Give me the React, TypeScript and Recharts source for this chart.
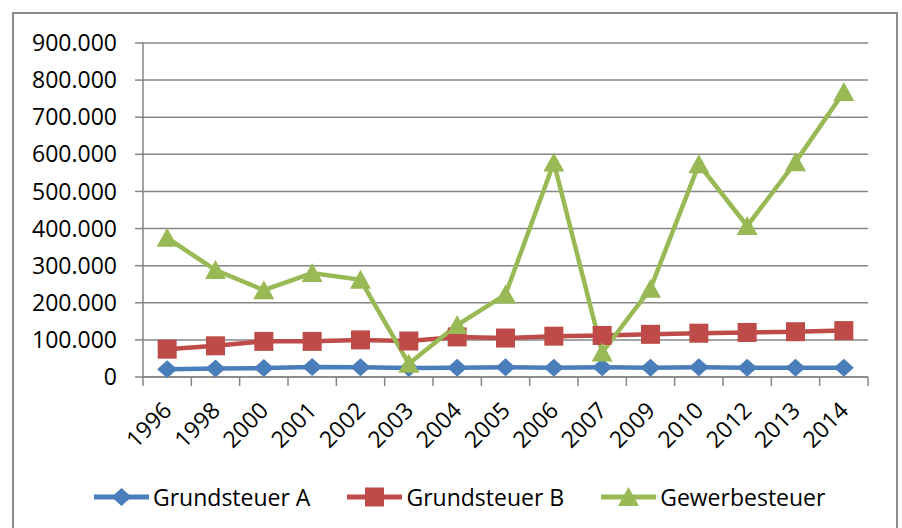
import React from 'react';
import { LineChart, Line, XAxis, YAxis, CartesianGrid, Legend } from 'recharts';

const years = ['1996', '1998', '2000', '2001', '2002', '2003', '2004', '2005', '2006', '2007', '2009', '2010', '2012', '2013', '2014'];
const grundsteuerA = [21000, 23000, 24000, 27000, 26000, 24000, 25000, 26000, 25000, 26000, 25000, 26000, 25000, 25000, 25000];
const grundsteuerB = [75000, 84000, 96000, 96000, 100000, 97000, 108000, 105000, 110000, 112000, 115000, 118000, 120000, 122000, 125000];
const gewerbesteuer = [375000, 288000, 234000, 280000, 262000, 36000, 140000, 222000, 578000, 66000, 238000, 573000, 407000, 579000, 768000];
const yTicks = [0, 100000, 200000, 300000, 400000, 500000, 600000, 700000, 800000, 900000];
const boundaryTicks = years.map((_, i) => i).concat(years.length);

const data = years.map((year, i) => ({
  year,
  idx: i + 0.5,
  grundA: grundsteuerA[i],
  grundB: grundsteuerB[i],
  gewerbe: gewerbesteuer[i],
}));

const FONT = '"Open Sans", sans-serif';
const GRID = '#868686';

type MarkerKind = 'diamond' | 'square' | 'triangle';

const series: { key: string; name: string; color: string; marker: MarkerKind }[] = [
  { key: 'grundA', name: 'Grundsteuer A', color: '#4A7EBB', marker: 'diamond' },
  { key: 'grundB', name: 'Grundsteuer B', color: '#BE4B48', marker: 'square' },
  { key: 'gewerbe', name: 'Gewerbesteuer', color: '#98B954', marker: 'triangle' },
];

const Marker = ({ kind, cx, cy, fill }: { kind: MarkerKind; cx: number; cy: number; fill: string }) => {
  if (kind === 'diamond') {
    return <polygon points={`${cx},${cy - 9} ${cx + 10},${cy} ${cx},${cy + 9} ${cx - 10},${cy}`} fill={fill} />;
  }
  if (kind === 'square') {
    return <rect x={cx - 9.5} y={cy - 9.5} width={19} height={19} fill={fill} />;
  }
  return <polygon points={`${cx},${cy - 10} ${cx + 10.5},${cy + 9} ${cx - 10.5},${cy + 9}`} fill={fill} />;
};

const fmt = (v: number) => (v === 0 ? '0' : `${v / 1000}.000`);

const YearTick = (props: any) => {
  const { x, y, payload } = props;
  const ax = x + 6;
  const ay = y + 26;
  return (
    <text x={ax} y={ay} transform={`rotate(-45 ${ax} ${ay})`} textAnchor="end" fontSize={23} fontFamily={FONT} fill="#000">
      {payload.value}
    </text>
  );
};

const LegendContent = () => (
  <div style={{ display: 'flex', alignItems: 'center', height: 30, fontFamily: FONT, fontSize: 23, color: '#000' }}>
    {series.map((s) => (
      <div key={s.key} style={{ display: 'flex', alignItems: 'center', marginRight: 37 }}>
        <svg width={55} height={26} style={{ marginRight: 4 }}>
          <line x1={0} y1={13} x2={55} y2={13} stroke={s.color} strokeWidth={5} />
          <Marker kind={s.marker} cx={27.5} cy={13} fill={s.color} />
        </svg>
        <span style={{ lineHeight: '30px' }}>{s.name}</span>
      </div>
    ))}
  </div>
);

export default function App() {
  return (
    <div style={{ position: 'fixed', left: 0, top: 0, width: 902, height: 528, background: '#fff', overflow: 'hidden' }}>
      <div
        style={{
          position: 'absolute',
          left: 12,
          top: 12,
          width: 886,
          height: 540,
          border: '2px solid #8c8c8c',
          boxSizing: 'border-box',
        }}
      />
      <div style={{ position: 'absolute', left: 0, top: 0 }}>
        <LineChart width={902} height={528} data={data} margin={{ top: 43, right: 34, bottom: 0, left: 0 }}>
          <CartesianGrid vertical={false} stroke={GRID} strokeWidth={1.5} />
          <XAxis
            xAxisId="a"
            dataKey="idx"
            type="number"
            domain={[0, years.length]}
            ticks={boundaryTicks}
            tick={() => <g />}
            tickSize={9}
            height={9}
            stroke={GRID}
            strokeWidth={1.5}
          />
          <XAxis
            xAxisId="b"
            dataKey="year"
            type="category"
            scale="band"
            height={142}
            tickLine={false}
            axisLine={false}
            tickSize={0}
            tickMargin={0}
            interval={0}
            tick={<YearTick />}
          />
          <YAxis
            width={143}
            domain={[0, 900000]}
            ticks={yTicks}
            tickFormatter={fmt}
            tickSize={8}
            tickMargin={18}
            stroke={GRID}
            strokeWidth={1.5}
            tick={{ fill: '#000', fontSize: 23, fontFamily: FONT }}
          />
          <Legend
            layout="horizontal"
            verticalAlign="middle"
            align="center"
            content={<LegendContent />}
            wrapperStyle={{ top: 482, left: 94, width: 800 }}
          />
          {series.map((s) => (
            <Line
              key={s.key}
              xAxisId="b"
              dataKey={s.key}
              name={s.name}
              stroke={s.color}
              strokeWidth={4.5}
              isAnimationActive={false}
              dot={(p: any) => <Marker key={`${s.key}-${p.index}`} kind={s.marker} cx={p.cx} cy={p.cy} fill={s.color} />}
              activeDot={false}
            />
          ))}
        </LineChart>
      </div>
    </div>
  );
}
